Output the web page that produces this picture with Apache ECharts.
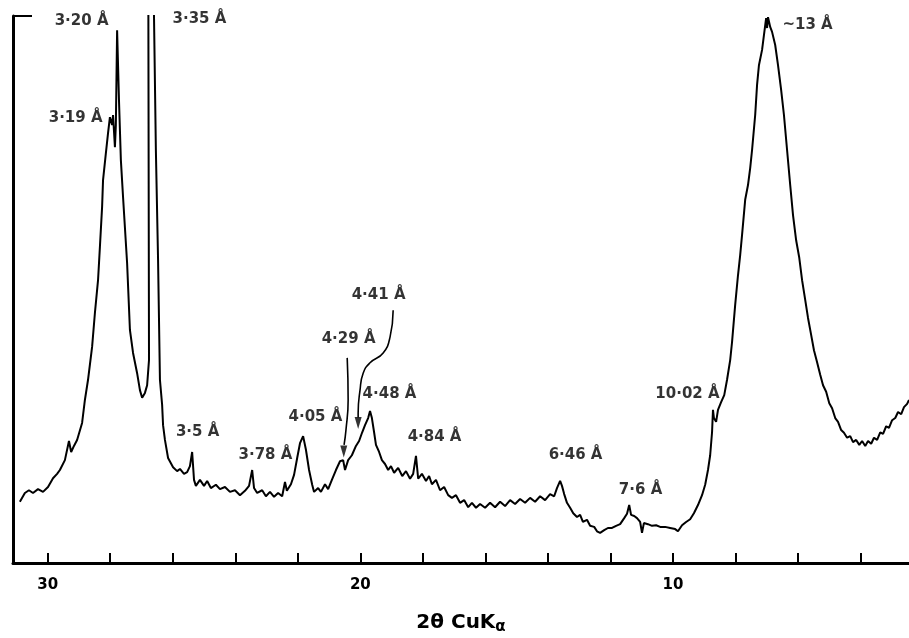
<!DOCTYPE html>
<html>
<head>
<meta charset="utf-8">
<script src="https://cdn.jsdelivr.net/npm/echarts@6/dist/echarts.min.js"></script>
<style>
  html, body { margin: 0; padding: 0; background: #fff; }
  #chart { width: 909px; height: 638px; }
</style>
</head>
<body>
<div id="chart"></div>
<script>
// diffractogram trace, 2θ (deg) and relative intensity
const twoTheta = [
  30.89, 30.73, 30.60, 30.47, 30.31, 30.15, 29.99, 29.83, 29.70, 29.61, 29.45, 29.32, 29.25, 29.16, 29.06,
  28.90, 28.81, 28.71, 28.58, 28.49, 28.39, 28.33, 28.26, 28.23, 28.14, 28.07, 28.01, 27.94, 27.91, 27.85,
  27.82, 27.78, 27.72, 27.66, 27.59, 27.46, 27.37, 27.27, 27.14, 27.05, 26.98, 26.89, 26.82, 26.76, 26.78,
  26.70, 26.60, 26.54, 26.47, 26.41, 26.34, 26.31, 26.25, 26.15, 25.99, 25.86, 25.77, 25.64, 25.54, 25.45,
  25.38, 25.32, 25.26, 25.13, 25.00, 24.90, 24.78, 24.62, 24.49, 24.33, 24.17, 24.01, 23.85, 23.69, 23.56,
  23.46, 23.40, 23.30, 23.14, 23.02, 22.89, 22.76, 22.63, 22.50, 22.41, 22.35, 22.22, 22.12, 22.02, 21.93,
  21.83, 21.74, 21.64, 21.54, 21.48, 21.35, 21.26, 21.13, 21.03, 20.91, 20.78, 20.65, 20.55, 20.49, 20.39,
  20.27, 20.14, 20.04, 19.94, 19.85, 19.75, 19.69, 19.63, 19.56, 19.50, 19.40, 19.31, 19.21, 19.11, 19.02,
  18.92, 18.79, 18.66, 18.54, 18.41, 18.31, 18.22, 18.15, 18.03, 17.90, 17.80, 17.71, 17.58, 17.45, 17.32,
  17.19, 17.07, 16.94, 16.81, 16.68, 16.55, 16.43, 16.30, 16.17, 16.01, 15.85, 15.69, 15.53, 15.37, 15.21,
  15.05, 14.89, 14.73, 14.57, 14.41, 14.25, 14.09, 13.93, 13.80, 13.71, 13.61, 13.55, 13.48, 13.39, 13.29,
  13.19, 13.07, 12.97, 12.88, 12.75, 12.65, 12.52, 12.43, 12.33, 12.20, 12.08, 11.95, 11.82, 11.69, 11.56,
  11.47, 11.40, 11.34, 11.24, 11.15, 11.05, 10.99, 10.93, 10.80, 10.67, 10.54, 10.41, 10.25, 10.09, 9.93,
  9.84, 9.71, 9.58, 9.45, 9.33, 9.20, 9.07, 8.97, 8.88, 8.81, 8.75, 8.72, 8.69, 8.62, 8.56,
  8.46, 8.36, 8.27, 8.17, 8.11, 8.01, 7.92, 7.85, 7.79, 7.69, 7.60, 7.53, 7.47, 7.37, 7.31,
  7.25, 7.15, 7.09, 7.02, 6.99, 6.96, 6.89, 6.83, 6.73, 6.64, 6.54, 6.45, 6.35, 6.25, 6.16,
  6.06, 5.96, 5.87, 5.77, 5.68, 5.58, 5.49, 5.39, 5.29, 5.20, 5.10, 5.00, 4.91, 4.81, 4.72,
  4.62, 4.53, 4.43, 4.33, 4.24, 4.14, 4.04, 3.95, 3.85, 3.76, 3.66, 3.57, 3.47, 3.37, 3.28,
  3.18, 3.09, 2.99, 2.89, 2.80, 2.70, 2.61, 2.51, 2.45
];
const counts = [
  11.2, 12.8, 13.3, 12.8, 13.5, 13.0, 13.9, 15.5, 16.3, 17.0, 18.8, 22.3, 20.3, 21.4, 22.5,
  25.6, 29.8, 33.5, 39.5, 45.7, 51.7, 57.8, 65.1, 70.0, 74.9, 78.6, 81.5, 80.1, 81.9, 76.0,
  80.1, 97.4, 84.6, 73.7, 66.9, 54.8, 42.6, 38.4, 34.7, 31.6, 30.2, 31.1, 32.5, 37.1, 100,
  139.5, 100, 75.5, 55.4, 33.5, 28.9, 25.2, 22.5, 19.2, 17.5, 16.8, 17.2, 16.3, 16.6, 17.7,
  20.3, 15.2, 14.1, 15.2, 14.1, 15.0, 13.7, 14.3, 13.5, 13.9, 13.0, 13.3, 12.4, 13.2, 14.1,
  17.0, 13.7, 12.8, 13.3, 12.2, 13.0, 12.1, 12.8, 12.2, 14.8, 13.2, 14.4, 16.1, 19.2, 21.9,
  23.2, 20.7, 17.0, 14.3, 13.0, 13.7, 13.0, 14.4, 13.5, 15.2, 17.0, 18.6, 18.8, 17.0, 18.8,
  19.7, 21.4, 22.3, 23.9, 25.2, 26.5, 27.8, 26.5, 23.9, 21.6, 20.3, 18.8, 18.1, 17.0, 17.7,
  16.5, 17.4, 15.9, 16.8, 15.4, 16.3, 19.6, 15.4, 16.3, 15.0, 15.9, 14.4, 15.2, 13.3, 13.9,
  12.4, 11.9, 12.4, 11.0, 11.5, 10.2, 11.0, 10.1, 10.8, 10.1, 11.0, 10.2, 11.2, 10.4, 11.5,
  10.8, 11.7, 11.0, 11.9, 11.2, 12.2, 11.5, 12.6, 12.2, 13.7, 15.0, 14.1, 12.6, 11.0, 10.1,
  9.1, 8.4, 8.8, 7.5, 7.9, 6.8, 6.6, 5.8, 5.5, 6.0, 6.4, 6.4, 6.8, 7.1, 8.2,
  9.0, 10.6, 8.8, 8.6, 8.2, 7.5, 5.5, 7.3, 7.1, 6.8, 6.9, 6.6, 6.6, 6.4, 6.2,
  5.8, 6.9, 7.5, 8.0, 9.1, 10.6, 12.4, 14.3, 17.0, 19.7, 23.9, 28.0, 26.5, 25.8, 28.0,
  29.4, 30.7, 33.5, 37.1, 40.4, 47.2, 52.6, 56.3, 60.0, 66.4, 69.1, 72.2, 75.5, 81.9, 87.4,
  91.0, 93.8, 96.5, 99.6, 97.8, 99.8, 98.0, 97.1, 94.7, 91.0, 86.5, 81.9, 75.5, 69.1, 63.6,
  59.0, 55.8, 51.7, 48.1, 44.8, 41.7, 38.9, 36.7, 34.4, 32.5, 31.3, 29.2, 28.3, 26.5, 25.8,
  24.3, 23.8, 22.9, 23.2, 22.1, 22.5, 21.6, 22.3, 21.4, 22.3, 21.8, 22.9, 22.5, 23.9, 23.6,
  25.0, 24.7, 26.1, 26.5, 27.6, 27.2, 28.5, 29.1, 29.8
];

// peak annotations (d-spacings)
const peakText  = ['3·20 Å', '3·19 Å', '3·35 Å', '3·5 Å', '3·78 Å', '4·05 Å', '4·29 Å', '4·41 Å', '4·48 Å', '4·84 Å', '6·46 Å', '7·6 Å', '10·02 Å', '~13 Å'];
const peakTheta = [28.90, 29.09, 25.13, 25.19, 23.02, 21.42, 20.36, 19.40, 19.05, 17.61, 13.10, 11.02, 9.52, 5.68];
const peakY     = [98.9, 81.3, 99.3, 23.9, 19.7, 26.5, 40.8, 48.8, 30.7, 22.9, 19.7, 13.3, 30.7, 98.3];

// arrow shafts for 4·29 and 4·41
const arrow429Theta = [20.42, 20.39, 20.46, 20.52];
const arrow429Y     = [37.5, 29.8, 24.3, 21.6];
const arrow441Theta = [18.95, 19.05, 19.27, 19.69, 19.91, 20.01, 20.07, 20.07];
const arrow441Y     = [46.2, 41.3, 38.4, 36.6, 34.7, 31.6, 27.4, 26.6];
const arrowHeadTheta = [20.53, 20.07];
const arrowHeadY     = [20.4, 25.6];

const tickValues  = [4, 6, 8, 10, 12, 14, 16, 18, 20, 22, 24, 26, 28, 30];
const labelValues = [10, 20, 30];

const font = '"DejaVu Sans", sans-serif';

const zip = (a, b) => a.map((v, i) => [v, b[i]]);

const chart = echarts.init(document.getElementById('chart'));

const option = {
    backgroundColor: '#fff',
    animation: false,
    grid: { left: 13, right: 0, top: 16, bottom: 75, containLabel: false, outerBoundsMode: 'none' },
    xAxis: {
        type: 'value',
        inverse: true,
        min: 2.45,
        max: 31.11,
        name: '{a|2θ CuK}{b|α}',
        nameLocation: 'middle',
        nameGap: 47,
        nameTextStyle: {
            rich: {
                a: { fontFamily: 'DejaVu Sans', fontWeight: 'bold', fontSize: 20, color: '#000' },
                b: { fontFamily: 'DejaVu Sans', fontWeight: 'bold', fontSize: 15, color: '#000', padding: [10, 0, 0, 0] }
            }
        },
        axisLine: { onZero: false, lineStyle: { color: '#000', width: 3 } },
        axisTick: { inside: true, length: 10, customValues: tickValues, lineStyle: { color: '#000', width: 2 } },
        axisLabel: {
            customValues: labelValues,
            margin: 15,
            fontSize: 15,
            fontWeight: 'bold',
            fontFamily: font,
            color: '#000'
        },
        splitLine: { show: false }
    },
    yAxis: {
        type: 'value',
        min: 0,
        max: 100,
        axisLine: { show: true, lineStyle: { color: '#000', width: 3 } },
        axisTick: { show: true, inside: true, length: 19, customValues: [100], lineStyle: { color: '#000', width: 2 } },
        axisLabel: { show: false },
        splitLine: { show: false }
    },
    series: [
        {
            name: 'trace',
            type: 'line',
            data: zip(twoTheta, counts),
            symbol: 'none',
            clip: true,
            lineStyle: { color: '#000', width: 2 }
        },
        {
            name: 'arrow 4.29',
            type: 'line',
            data: zip(arrow429Theta, arrow429Y),
            smooth: true,
            symbol: 'none',
            lineStyle: { color: '#000', width: 1.6 }
        },
        {
            name: 'arrow 4.41',
            type: 'line',
            data: zip(arrow441Theta, arrow441Y),
            smooth: true,
            symbol: 'none',
            lineStyle: { color: '#000', width: 1.6 }
        },
        {
            name: 'arrow heads',
            type: 'scatter',
            data: zip(arrowHeadTheta, arrowHeadY),
            symbol: 'triangle',
            symbolRotate: 180,
            symbolSize: [7, 12],
            itemStyle: { color: '#000' }
        },
        {
            name: 'peaks',
            type: 'scatter',
            data: peakText.map((t, i) => ({ value: [peakTheta[i], peakY[i]], name: t })),
            symbolSize: 1,
            itemStyle: { color: 'rgba(0,0,0,0)' },
            label: {
                show: true,
                position: [0, 0],
                align: 'center',
                verticalAlign: 'middle',
                formatter: p => p.name,
                fontFamily: font,
                fontSize: 15,
                fontWeight: 'bold',
                color: '#000'
            }
        }
    ]
};

chart.setOption(option);
</script>
</body>
</html>
